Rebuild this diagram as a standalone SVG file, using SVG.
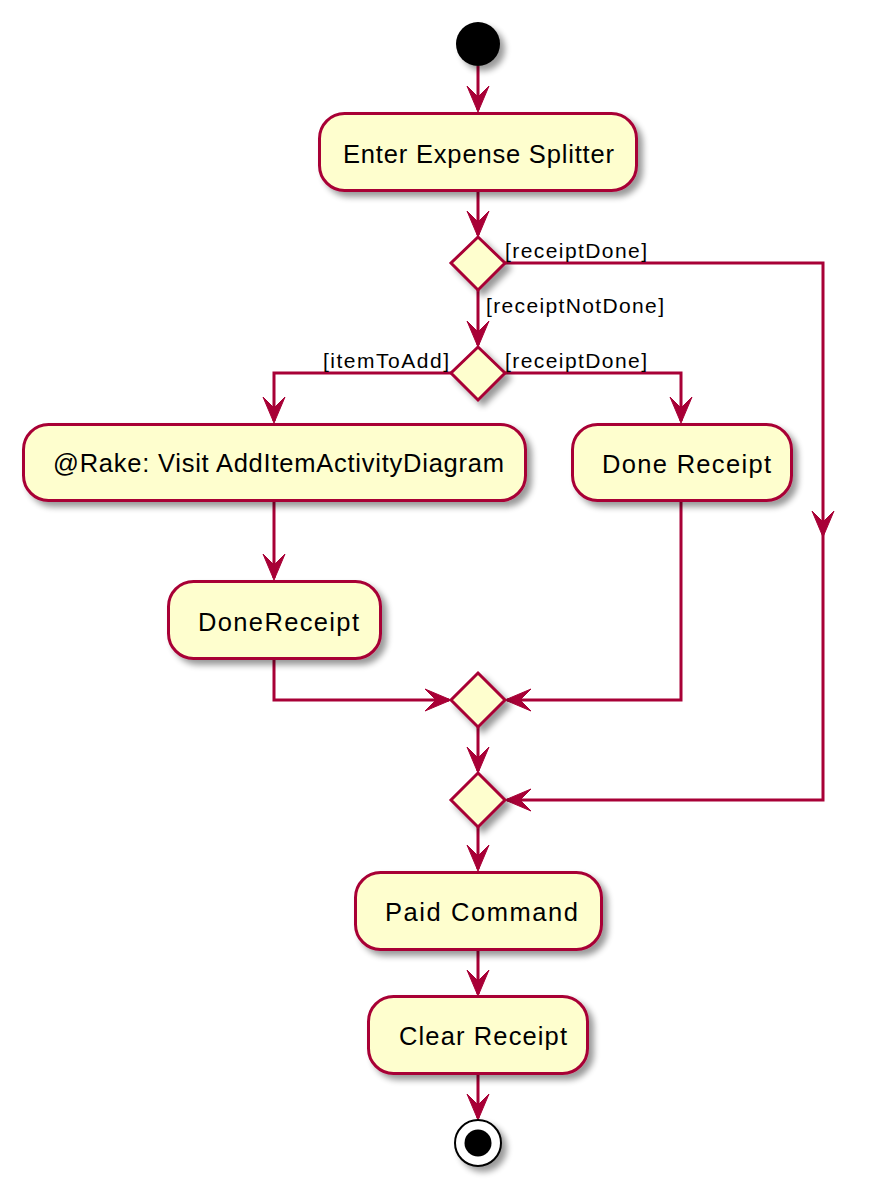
<svg xmlns="http://www.w3.org/2000/svg" xmlns:xlink="http://www.w3.org/1999/xlink" width="879" height="1191" viewBox="0 0 879 1191">
<style>
.act{fill:#FEFECE;stroke:#A80036;stroke-width:3;filter:url(#sh)}
.dec{fill:#FEFECE;stroke:#A80036;stroke-width:3;filter:url(#sh)}
.ln{fill:none;stroke:#A80036;stroke-width:3}
.ah{fill:#A80036;stroke:#A80036;stroke-width:1}
.t{font-family:"Liberation Sans",Arial,sans-serif;font-size:25.5px;fill:#000}
.e{font-family:"Liberation Sans",Arial,sans-serif;font-size:21px;fill:#000}
</style>
<defs>
<filter id="sh" x="-20%" y="-20%" width="150%" height="160%">
<feGaussianBlur in="SourceAlpha" stdDeviation="3"/>
<feOffset dx="5" dy="5" result="b"/>
<feComponentTransfer><feFuncA type="linear" slope="0.4"/></feComponentTransfer>
<feMerge><feMergeNode/><feMergeNode in="SourceGraphic"/></feMerge>
</filter>
<polygon id="arr" class="ah" points="-11,-26 0,0 11,-26 0,-15"/>
</defs>
<rect width="879" height="1191" fill="#FFFFFF"/>

<g id="connectors">
<line class="ln" x1="478" y1="66" x2="478" y2="110"/>
<use xlink:href="#arr" transform="translate(478,112)"/>
<line class="ln" x1="478" y1="191" x2="478" y2="235"/>
<use xlink:href="#arr" transform="translate(478,237)"/>
<polyline class="ln" points="505,263 823,263 823,800 507,800"/>
<use xlink:href="#arr" transform="translate(823,537)"/>
<use xlink:href="#arr" transform="translate(505,800) rotate(90)"/>
<line class="ln" x1="478" y1="290" x2="478" y2="345"/>
<use xlink:href="#arr" transform="translate(478,347)"/>
<polyline class="ln" points="451,373 274,373 274,421"/>
<use xlink:href="#arr" transform="translate(274,423)"/>
<polyline class="ln" points="505,373 681,373 681,421"/>
<use xlink:href="#arr" transform="translate(681,423)"/>
<line class="ln" x1="274" y1="501" x2="274" y2="578"/>
<use xlink:href="#arr" transform="translate(274,580)"/>
<polyline class="ln" points="274,659 274,700 449,700"/>
<use xlink:href="#arr" transform="translate(451,700) rotate(-90)"/>
<polyline class="ln" points="681,501 681,700 507,700"/>
<use xlink:href="#arr" transform="translate(505,700) rotate(90)"/>
<line class="ln" x1="478" y1="727" x2="478" y2="771"/>
<use xlink:href="#arr" transform="translate(478,773)"/>
<line class="ln" x1="478" y1="827" x2="478" y2="869"/>
<use xlink:href="#arr" transform="translate(478,871)"/>
<line class="ln" x1="478" y1="950" x2="478" y2="994"/>
<use xlink:href="#arr" transform="translate(478,996)"/>
<line class="ln" x1="478" y1="1074" x2="478" y2="1118"/>
<use xlink:href="#arr" transform="translate(478,1120)"/>
<text class="e" x="505" y="258" textLength="142" lengthAdjust="spacing">[receiptDone]</text>
<text class="e" x="486" y="313" textLength="178" lengthAdjust="spacing">[receiptNotDone]</text>
<text class="e" x="323" y="368" textLength="126" lengthAdjust="spacing">[itemToAdd]</text>
<text class="e" x="505" y="368" textLength="142" lengthAdjust="spacing">[receiptDone]</text>
</g>

<g id="start"><circle cx="478" cy="44" r="22" fill="#000" filter="url(#sh)"/></g>

<g id="enter"><rect class="act" x="319.5" y="113.5" width="317" height="77" rx="25"/>
<text class="t" x="343" y="163" textLength="271" lengthAdjust="spacing">Enter Expense Splitter</text></g>

<g id="dec1"><polygon class="dec" points="478,237 505,263 478,290 451,263"/></g>
<g id="dec2"><polygon class="dec" points="478,347 505,373 478,400 451,373"/></g>

<g id="visit"><rect class="act" x="23.5" y="424.5" width="502" height="76" rx="25"/>
<text class="t" x="53" y="472" textLength="451" lengthAdjust="spacing">@Rake: Visit AddItemActivityDiagram</text></g>

<g id="doneReceipt1"><rect class="act" x="572.5" y="424.5" width="219" height="76" rx="25"/>
<text class="t" x="602" y="473" textLength="169" lengthAdjust="spacing">Done Receipt</text></g>

<g id="doneReceipt2"><rect class="act" x="168.5" y="581.5" width="212" height="77" rx="25"/>
<text class="t" x="198" y="631" textLength="161" lengthAdjust="spacing">DoneReceipt</text></g>

<g id="merge1"><polygon class="dec" points="478,673 505,700 478,727 451,700"/></g>
<g id="merge2"><polygon class="dec" points="478,773 505,800 478,827 451,800"/></g>

<g id="paid"><rect class="act" x="355.5" y="872.5" width="246" height="77" rx="25"/>
<text class="t" x="385" y="921" textLength="193" lengthAdjust="spacing">Paid Command</text></g>

<g id="clear"><rect class="act" x="368.5" y="996.5" width="219" height="77" rx="25"/>
<text class="t" x="399" y="1045" textLength="168" lengthAdjust="spacing">Clear Receipt</text></g>

<g id="end"><circle cx="478" cy="1143" r="23" fill="#FFFFFF" stroke="#000" stroke-width="2" filter="url(#sh)"/>
<circle cx="478" cy="1143" r="13.5" fill="#000"/></g>
</svg>
